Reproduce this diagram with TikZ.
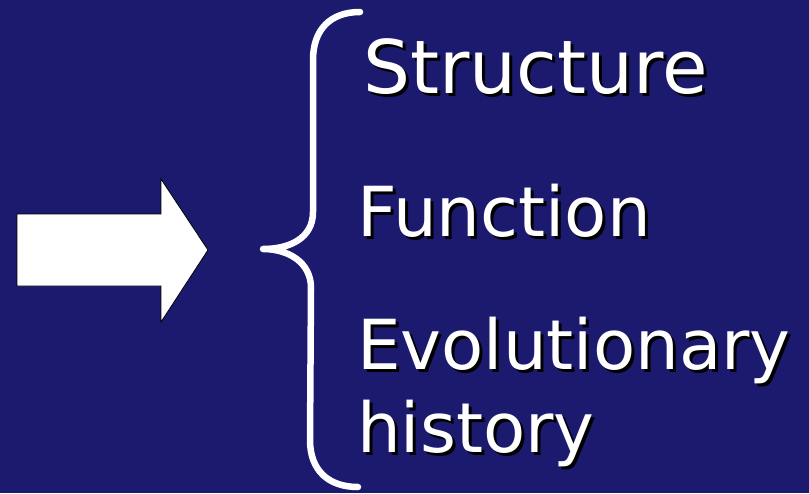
\documentclass[tikz,border=0pt]{standalone}
\usepackage{fontspec}
\setmainfont{DejaVu Sans}
\definecolor{slidebg}{RGB}{27,26,110}
\tikzset{
  label/.style={anchor=base west, inner sep=0pt, text=white},
  shadow/.style={anchor=base west, inner sep=0pt, text=black},
  big/.style={font=\fontsize{74}{74}\selectfont},
  normal/.style={font=\fontsize{69}{69}\selectfont},
  bracestroke/.style={draw=white, line width=6.5pt, line cap=round, line join=round},
}
\begin{document}
\begin{tikzpicture}[x=1pt, y=-1pt]
  % slide background
  \fill[slidebg] (0,0) rectangle (809,493);
  \useasboundingbox (0,0) rectangle (809,493);

  % block arrow
  \draw[fill=white, draw=black, line width=0.8pt]
    (17,214) -- (161,214) -- (161,179) -- (208,250) -- (161,322)
    -- (161,286) -- (17,286) -- cycle;

  % curly brace
  \coordinate (btop) at (360,12);
  \coordinate (btip) at (263,249);
  \coordinate (bbot) at (358,487);
  \draw[bracestroke]
    (btop) .. controls (330,12) and (313,30) .. (313,60)
    -- (313,212)
    .. controls (313,238) and (290,249) .. (btip)
    .. controls (288,249) and (311,262) .. (311,288)
    -- (310,440)
    .. controls (310,470) and (328,487) .. (bbot);

  % labels with drop shadows
  \node[shadow, big] (s1) at (366,96) {Structure};
  \node[label, big]  (t1) at (363,93) {Structure};
  \node[shadow, normal] (s2) at (360,239) {Function};
  \node[label, normal]  (t2) at (357,236) {Function};
  \node[shadow, normal] (s3) at (360,372) {Evolutionary};
  \node[label, normal]  (t3) at (357,369) {Evolutionary};
  \node[shadow, normal] (s4) at (360,455) {history};
  \node[label, normal]  (t4) at (357,452) {history};
\end{tikzpicture}
\end{document}
